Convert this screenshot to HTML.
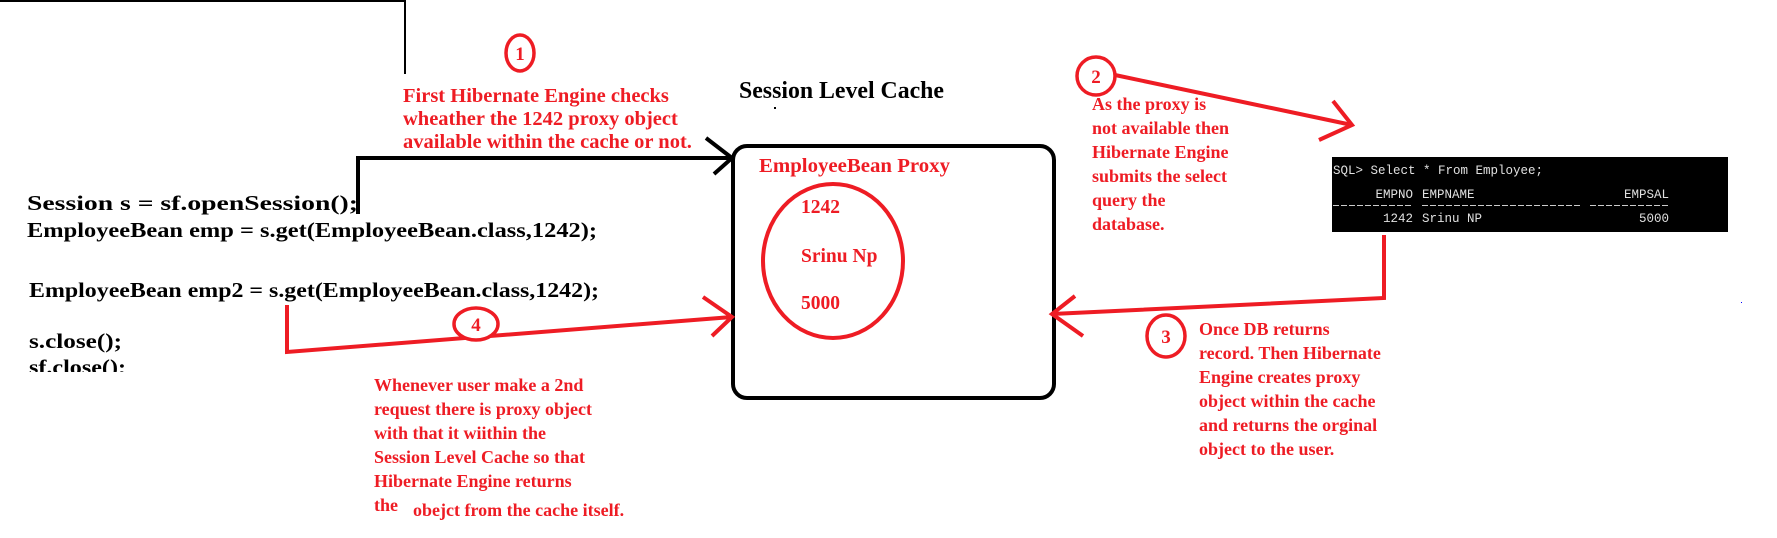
<!DOCTYPE html>
<html><head><meta charset="utf-8"><style>
html,body{margin:0;padding:0;background:#fff;width:1777px;height:538px;overflow:hidden}
svg{display:block}
.r{font-family:"Liberation Serif",serif;font-weight:bold;font-size:18px;fill:#ee1c24}
.b{font-family:"Liberation Serif",serif;font-weight:bold;font-size:21px;fill:#000}
.m{font-family:"Liberation Mono",monospace;font-size:12.5px;fill:#e0e0e0}
.n{font-family:"Liberation Serif",serif;font-weight:bold;font-size:19px;fill:#ee1c24}
</style></head><body>
<svg width="1777" height="538" viewBox="0 0 1777 538" xmlns="http://www.w3.org/2000/svg">
<polyline points="0,1 405,1 405,74" fill="none" stroke="#000" stroke-width="2"/>

<ellipse cx="520" cy="53" rx="14" ry="18" fill="none" stroke="#ee1c24" stroke-width="3.5"/>
<text x="520" y="60" class="n" text-anchor="middle">1</text>
<g class="r" style="font-size:20.5px">
<text x="403" y="102">First Hibernate Engine checks</text>
<text x="403" y="125">wheather the 1242 proxy object</text>
<text x="403" y="148">available within the cache or not.</text>
</g>

<text class="b" x="739" y="98" style="font-size:24px" textLength="205" lengthAdjust="spacingAndGlyphs">Session Level Cache</text>
<rect x="774" y="107" width="2" height="2" fill="#000"/>

<rect x="733" y="146" width="321" height="252" rx="14" fill="none" stroke="#000" stroke-width="4"/>

<polyline points="358,214 358,158 732,158" fill="none" stroke="#000" stroke-width="4"/>
<polyline points="706,138 732,158 714,174" fill="none" stroke="#000" stroke-width="4"/>

<text class="r" x="759" y="172" style="font-size:20.5px" textLength="191" lengthAdjust="spacingAndGlyphs">EmployeeBean Proxy</text>
<ellipse cx="833" cy="261" rx="70" ry="77" fill="none" stroke="#ee1c24" stroke-width="4"/>
<g class="r" style="font-size:19.5px">
<text x="801" y="213">1242</text>
<text x="801" y="262">Srinu Np</text>
<text x="801" y="309">5000</text>
</g>

<text class="b" x="27" y="210" textLength="331" lengthAdjust="spacingAndGlyphs">Session  s = sf.openSession();</text>
<text class="b" x="27" y="237" textLength="570" lengthAdjust="spacingAndGlyphs">EmployeeBean emp = s.get(EmployeeBean.class,1242);</text>
<text class="b" x="29" y="297" textLength="570" lengthAdjust="spacingAndGlyphs">EmployeeBean emp2 = s.get(EmployeeBean.class,1242);</text>
<text class="b" x="29" y="348" textLength="93" lengthAdjust="spacingAndGlyphs">s.close();</text>
<svg x="0" y="350" width="200" height="22" overflow="hidden"><text class="b" x="29" y="24" textLength="97" lengthAdjust="spacingAndGlyphs">sf.close();</text></svg>

<polyline points="287,305 287,352 732,317" fill="none" stroke="#ee1c24" stroke-width="4"/>
<polyline points="703,297 732,317 712,336" fill="none" stroke="#ee1c24" stroke-width="4"/>
<ellipse cx="476" cy="324" rx="22" ry="16" fill="#fff" stroke="#ee1c24" stroke-width="3.5"/>
<text x="476" y="331" class="n" text-anchor="middle">4</text>
<g class="r">
<text x="374" y="391">Whenever user make a 2nd</text>
<text x="374" y="415">request there is proxy object</text>
<text x="374" y="439">with that it wiithin the</text>
<text x="374" y="463">Session Level Cache so that</text>
<text x="374" y="487">Hibernate Engine returns</text>
<text x="374" y="511">the</text>
<text x="413" y="516">obejct from the cache itself.</text>
</g>

<ellipse cx="1096" cy="76" rx="19" ry="19" fill="none" stroke="#ee1c24" stroke-width="3.5"/>
<text x="1096" y="83" class="n" text-anchor="middle">2</text>
<line x1="1115" y1="75" x2="1352" y2="125" stroke="#ee1c24" stroke-width="4"/>
<polyline points="1333,101 1352,125 1319,140" fill="none" stroke="#ee1c24" stroke-width="4"/>
<g class="r">
<text x="1092" y="110">As the proxy is</text>
<text x="1092" y="134">not available then</text>
<text x="1092" y="158">Hibernate Engine</text>
<text x="1092" y="182">submits the select</text>
<text x="1092" y="206">query the</text>
<text x="1092" y="230">database.</text>
</g>

<rect x="1332" y="157" width="396" height="75" fill="#000"/>
<text class="m" x="1333" y="174">SQL&gt; Select * From Employee;</text>
<text class="m" x="1413" y="198" text-anchor="end">EMPNO</text>
<text class="m" x="1422" y="198">EMPNAME</text>
<text class="m" x="1669" y="198" text-anchor="end">EMPSAL</text>
<g stroke="#ccc" stroke-width="1" stroke-dasharray="6,2">
<line x1="1333" y1="205.5" x2="1413" y2="205.5"/>
<line x1="1422" y1="205.5" x2="1581" y2="205.5"/>
<line x1="1590" y1="205.5" x2="1669" y2="205.5"/>
</g>
<text class="m" x="1413" y="222" text-anchor="end">1242</text>
<text class="m" x="1422" y="222">Srinu NP</text>
<text class="m" x="1669" y="222" text-anchor="end">5000</text>

<polyline points="1384,235 1384,298 1052,314" fill="none" stroke="#ee1c24" stroke-width="4"/>
<polyline points="1075,296 1052,314 1083,336" fill="none" stroke="#ee1c24" stroke-width="4"/>
<ellipse cx="1166" cy="336" rx="19" ry="21" fill="none" stroke="#ee1c24" stroke-width="3.5"/>
<text x="1166" y="343" class="n" text-anchor="middle">3</text>
<g class="r">
<text x="1199" y="335">Once DB returns</text>
<text x="1199" y="359">record. Then Hibernate</text>
<text x="1199" y="383">Engine creates proxy</text>
<text x="1199" y="407">object within the cache</text>
<text x="1199" y="431">and returns the orginal</text>
<text x="1199" y="455">object to the user.</text>
</g>
<rect x="1741" y="302" width="1" height="1" fill="#00f"/>
</svg>
</body></html>
